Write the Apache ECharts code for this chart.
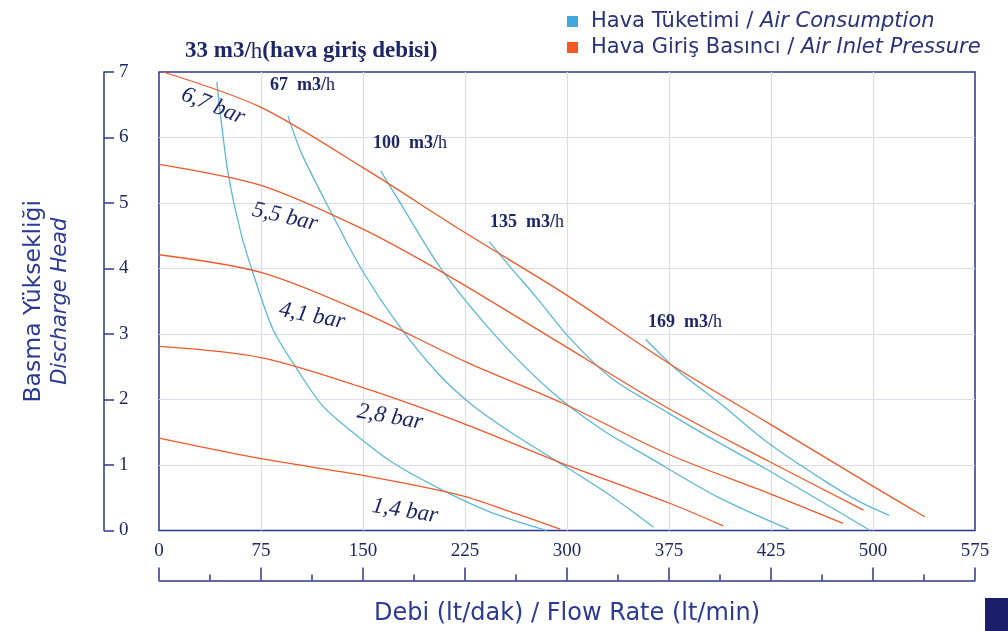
<!DOCTYPE html>
<html><head><meta charset="utf-8">
<script src="https://cdn.jsdelivr.net/npm/echarts@6/dist/echarts.min.js"></script>
<style>html,body{margin:0;padding:0;background:#fff;}#c{width:1008px;height:631px;}</style>
</head><body><div id="c"></div>
<script>
// Tick labels (as printed on the original chart)
const xTickLabels = ['0','75','150','225','300','375','425','500','575'];
const yTickLabels = ['0','1','2','3','4','5','6','7'];

// Air inlet pressure curves: [flow lt/min, head]
const pressureNames = ['6,7 bar','5,5 bar','4,1 bar','2,8 bar','1,4 bar'];
const p67 = [[3,7.0],[75,6.46],[150,5.54],[224,4.56],[300,3.59],[375,2.55],[448,1.64],[523,0.70],[563,0.21]];
const p55 = [[0,5.59],[75,5.27],[150,4.60],[211,3.91],[287,2.96],[374,1.87],[449,1.05],[518,0.31]];
const p41 = [[0,4.21],[75,3.94],[150,3.33],[226,2.57],[296,1.95],[375,1.16],[448,0.57],[503,0.11]];
const p28 = [[0,2.81],[75,2.64],[150,2.18],[223,1.64],[296,1.03],[375,0.42],[415,0.07]];
const p14 = [[0,1.41],[74,1.10],[150,0.84],[223,0.53],[262,0.26],[295,0.02]];

// Air consumption curves
const consumptionNames = ['33 m3/h','67 m3/h','100 m3/h','135 m3/h','169 m3/h'];
const c33 = [[42.5,6.85],[46,6.2],[51.3,5.39],[60,4.56],[69.6,3.9],[84,3.06],[101,2.48],[120,1.91],[140,1.54],[170,1.06],[208,0.62],[245,0.27],[285,0]];
const c67 = [[94.8,6.33],[105,5.75],[127,4.84],[150,3.95],[176,3.14],[205,2.40],[230,1.92],[260,1.48],[294,1.04],[330,0.56],[363.6,0.05]];
const c100 = [[163,5.49],[178,4.98],[208,3.98],[248,2.96],[287,2.15],[325,1.55],[360,1.12],[411,0.51],[463,0.02]];
const c135 = [[242.7,4.41],[260,3.98],[277,3.57],[301,2.96],[333,2.32],[374,1.80],[410,1.36],[448,0.92],[523,0]];
const c169 = [[357.8,2.92],[382,2.43],[412,1.95],[449,1.32],[490,0.75],[515,0.44],[537,0.23]];

const legendNames = ['Hava Tüketimi','Hava Giriş Basıncı'];
const legendRich = {'Hava Tüketimi':'{r|Hava Tüketimi / }{i|Air Consumption}','Hava Giriş Basıncı':'{r|Hava Giriş Basıncı / }{i|Air Inlet Pressure}'};

const ORANGE = '#ee5a2c', BLUE = '#5db8d5', NAVY = '#1d2767', AXIS = '#2c3889', TITLE = '#2b3a92';
const SERIF = '"Liberation Serif", "Times New Roman", serif';
const SANS = '"DejaVu Sans", "Noto Sans", sans-serif';

const pressureData = [p67,p55,p41,p28,p14];
const consumptionData = [c33,c67,c100,c135,c169];
const series = [];
pressureData.forEach(d=>series.push({name:legendNames[1], type:'line', data:d, showSymbol:false, smooth:0.3, lineStyle:{color:ORANGE,width:1.3}, itemStyle:{color:ORANGE}, z:3}));
consumptionData.forEach(d=>series.push({name:legendNames[0], type:'line', data:d, showSymbol:false, smooth:0.3, lineStyle:{color:BLUE,width:1.3}, itemStyle:{color:BLUE}, z:2}));

const chart = echarts.init(document.getElementById('c'), null, {renderer:'canvas'});
const barLabel = (txt, x, y, rotDeg) => ({type:'text', x:x, y:y, rotation:-rotDeg*Math.PI/180, z:10,
  style:{text:txt, font:'italic 23px '+SERIF, fill:NAVY, align:'center', verticalAlign:'middle'}});
const flowLabel = (num, x, y) => ({type:'text', x:x, y:y, z:10,
  style:{text:'{b|'+num+'  m3/}{n|h}', align:'left', verticalAlign:'middle',
    rich:{b:{font:'bold 18px '+SERIF, fill:NAVY}, n:{font:'18px '+SERIF, fill:NAVY}}}});

chart.setOption({
  animation:false,
  backgroundColor:'#ffffff',
  grid:{left:159, top:72, width:816, height:458.5, show:true, borderColor:AXIS, borderWidth:1.5, backgroundColor:'#ffffff'},
  legend:{
    data:[{name:legendNames[0], itemStyle:{color:'#3fa8dc'}},{name:legendNames[1], itemStyle:{color:'#f25a22'}}],
    orient:'vertical', left:562, top:6, icon:'rect', itemWidth:11, itemHeight:11, itemGap:5,
    formatter:n=>legendRich[n],
    textStyle:{padding:[0,0,0,8], rich:{r:{fontFamily:SANS, fontSize:21, color:'#2a3377'}, i:{fontFamily:SANS, fontSize:21, fontStyle:'italic', color:'#2a3377'}}}
  },
  xAxis:{
    type:'value', min:0, max:600, interval:75, position:'bottom', offset:50,
    name:'Debi (lt/dak) / Flow Rate (lt/min)', nameLocation:'middle', nameGap:21,
    nameTextStyle:{fontFamily:SANS, fontSize:24, color:TITLE, verticalAlign:'top'},
    axisLine:{show:true, onZero:false, lineStyle:{color:AXIS, width:1.5}},
    axisTick:{show:true, inside:true, length:13, lineStyle:{color:AXIS, width:1.5}},
    minorTick:{show:true, splitNumber:2, length:6, lineStyle:{color:AXIS, width:1.5}},
    axisLabel:{inside:true, margin:20, fontFamily:SERIF, fontSize:19, color:NAVY,
      formatter:v=>xTickLabels[Math.round(v/75)]},
    splitLine:{show:true, showMinLine:false, showMaxLine:false, lineStyle:{color:'#dcdcec', width:1.2}}
  },
  yAxis:{
    type:'value', min:0, max:7, interval:1, position:'left', offset:55,
    name:'{a|Basma Yüksekliği}\n{b|Discharge Head}', nameLocation:'middle', nameGap:30, nameRotate:90,
    nameTextStyle:{rich:{a:{fontFamily:SANS, fontSize:23.5, color:TITLE, lineHeight:27}, b:{fontFamily:SANS, fontSize:21, fontStyle:'italic', color:TITLE, lineHeight:27}}},
    axisLine:{show:true, onZero:false, lineStyle:{color:AXIS, width:1.5}},
    axisTick:{show:true, inside:true, length:10, lineStyle:{color:AXIS, width:1.5}},
    axisLabel:{inside:true, margin:15, fontFamily:SERIF, fontSize:19, color:NAVY,
      formatter:v=>yTickLabels[Math.round(v)]},
    splitLine:{show:true, showMinLine:false, showMaxLine:false, lineStyle:{color:'#dcdcec', width:1.2}}
  },
  series:series,
  graphic:[
    {type:'text', left:185, top:40, z:10, style:{text:'{b|33 m3/}{n|h}{b|(hava giriş debisi)}',
      rich:{b:{font:'bold 23px '+SERIF, fill:NAVY}, n:{font:'23px '+SERIF, fill:NAVY}}}},
    flowLabel(consumptionNames[1].split(' ')[0], 270, 85),
    flowLabel(consumptionNames[2].split(' ')[0], 373, 143),
    flowLabel(consumptionNames[3].split(' ')[0], 490, 222),
    flowLabel(consumptionNames[4].split(' ')[0], 648, 322),
    barLabel(pressureNames[0], 213, 106, 22),
    barLabel(pressureNames[1], 285, 217, 13),
    barLabel(pressureNames[2], 312, 316, 11),
    barLabel(pressureNames[3], 390, 417, 10),
    barLabel(pressureNames[4], 405, 511, 9),
    {type:'rect', shape:{x:985, y:598, width:23, height:33}, style:{fill:'#1b1f6b'}, z:10}
  ]
});
</script></body></html>
